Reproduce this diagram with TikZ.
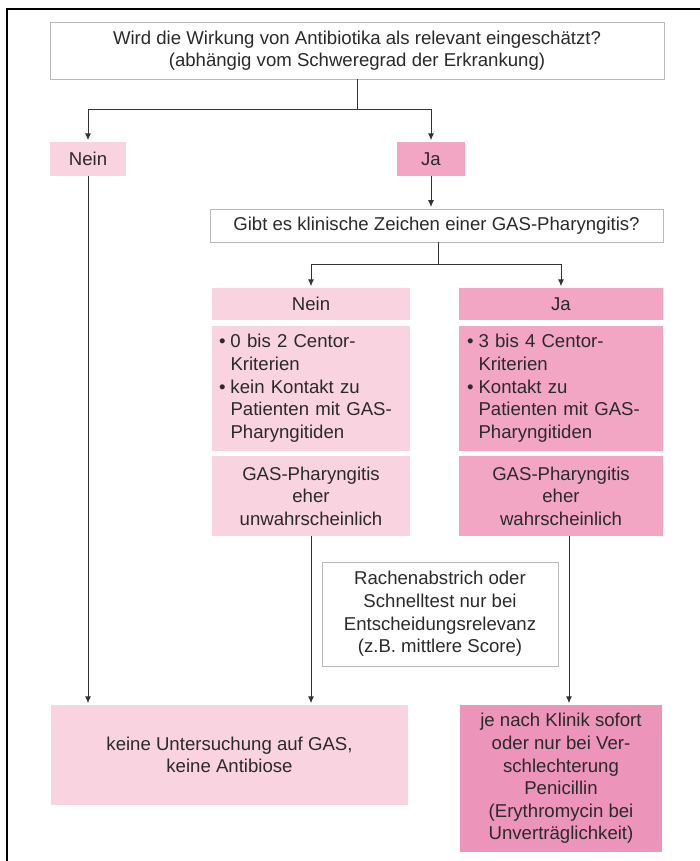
\documentclass[tikz,border=0pt]{standalone}
\usepackage{fontspec}
\setmainfont{Liberation Sans}
\usetikzlibrary{arrows.meta}
\definecolor{pinkA}{HTML}{F9D3E0}
\definecolor{pinkB}{HTML}{F2A6C4}
\definecolor{pinkC}{HTML}{EC94BA}
\definecolor{txt}{HTML}{2A2A2A}
\definecolor{ln}{HTML}{333333}
\tikzset{
  base/.style={rectangle, inner sep=0pt, align=center, text=txt,
    font=\fontsize{18.6}{22.6}\selectfont},
  framed/.style={base, draw=gray!55, line width=0.8pt, fill=white},
  lightbox/.style={base, fill=pinkA},
  midbox/.style={base, fill=pinkB},
  darkbox/.style={base, fill=pinkC},
  arr/.style={draw=ln, line width=1pt, -{Latex[length=7pt,width=6pt]}, shorten >=1.5pt},
  plain/.style={draw=ln, line width=1pt},
}
\newcommand{\crit}[4]{\begin{tabular}{@{}l@{\hspace{5pt}}l@{}}\textbullet & #1\\ & #2\\ \textbullet & #3\\ & #4\end{tabular}}
\begin{document}
\begin{tikzpicture}[x=1pt,y=-1pt]
\useasboundingbox (0,0) rectangle (700,861);
\draw[line width=1.2pt, black] (7,880) -- (7,9) -- (720,9);

\node[framed, minimum width=614pt, minimum height=57pt] (q1) at (357,50.5)
  {Wird die Wirkung von Antibiotika als relevant eingeschätzt?\\(abhängig vom Schweregrad der Erkrankung)};
\node[lightbox, minimum width=76pt, minimum height=34pt] (neinA) at (88,159) {Nein};
\node[midbox, minimum width=68pt, minimum height=34pt] (jaA) at (431,159) {Ja};
\node[framed, minimum width=453pt, minimum height=33pt] (q2) at (436.5,225.5)
  {Gibt es klinische Zeichen einer GAS-Pharyngitis?};

\node[lightbox, minimum width=198pt, minimum height=32pt] (neinB) at (311,304) {Nein};
\node[midbox, minimum width=204pt, minimum height=32pt] (jaB) at (561,304) {Ja};

\node[lightbox, minimum width=198pt, minimum height=125pt, text width=184pt, align=left] (critL) at (311,388.5)
  {\crit{0 bis 2 Centor-}{Kriterien}{kein Kontakt zu}{Patienten mit GAS-\\ & Pharyngitiden}};
\node[midbox, minimum width=204pt, minimum height=125pt, text width=188pt, align=left] (critR) at (561,388.5)
  {\crit{3 bis 4 Centor-}{Kriterien}{Kontakt zu}{Patienten mit GAS-\\ & Pharyngitiden}};

\node[lightbox, minimum width=198pt, minimum height=80pt] (concL) at (311,496)
  {GAS-Pharyngitis\\eher\\unwahrscheinlich};
\node[midbox, minimum width=204pt, minimum height=80pt] (concR) at (561,496)
  {GAS-Pharyngitis\\eher\\wahrscheinlich};

\node[framed, minimum width=236pt, minimum height=104pt] (rach) at (440,614)
  {Rachenabstrich oder\\Schnelltest nur bei\\Entscheidungsrelevanz\\(z.B. mittlere Score)};

\node[lightbox, minimum width=357pt, minimum height=100pt] (endL) at (229.5,755)
  {keine Untersuchung auf GAS,\\keine Antibiose};
\node[darkbox, minimum width=202pt, minimum height=147pt] (endR) at (561,778.5)
  {je nach Klinik sofort\\oder nur bei Ver-\\schlechterung\\Penicillin\\(Erythromycin bei\\Unverträglichkeit)};

% connectors
\coordinate (j1) at (357,110);
\draw[plain] (q1.south) -- (j1);
\draw[arr] (j1) -| (neinA.north);
\draw[arr] (j1) -| (jaA.north);
\draw[arr] (jaA.south) -- (jaA.south |- q2.north);

\coordinate (j2) at (438,264);
\draw[plain] (q2.south -| j2) -- (j2);
\draw[arr] (j2) -| (neinB.north);
\draw[arr] (j2) -| (jaB.north);

\draw[arr] (neinA.south) -- (neinA.south |- endL.north);
\draw[arr] (concL.south) -- (concL.south |- endL.north);
\coordinate (cr) at ([xshift=8pt]concR.south);
\draw[arr] (cr) -- (cr |- endR.north);
\end{tikzpicture}
\end{document}
